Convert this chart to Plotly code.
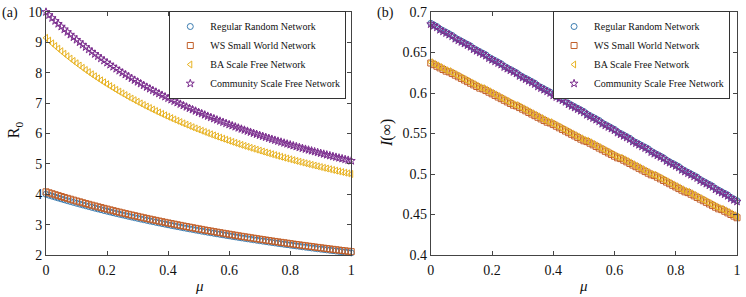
import plotly.graph_objects as go

# mu grid (x axis of both panels)
mu = [0.00, 0.01, 0.02, 0.03, 0.04, 0.05, 0.06, 0.07, 0.08, 0.09,
      0.10, 0.11, 0.12, 0.13, 0.14, 0.15, 0.16, 0.17, 0.18, 0.19,
      0.20, 0.21, 0.22, 0.23, 0.24, 0.25, 0.26, 0.27, 0.28, 0.29,
      0.30, 0.31, 0.32, 0.33, 0.34, 0.35, 0.36, 0.37, 0.38, 0.39,
      0.40, 0.41, 0.42, 0.43, 0.44, 0.45, 0.46, 0.47, 0.48, 0.49,
      0.50, 0.51, 0.52, 0.53, 0.54, 0.55, 0.56, 0.57, 0.58, 0.59,
      0.60, 0.61, 0.62, 0.63, 0.64, 0.65, 0.66, 0.67, 0.68, 0.69,
      0.70, 0.71, 0.72, 0.73, 0.74, 0.75, 0.76, 0.77, 0.78, 0.79,
      0.80, 0.81, 0.82, 0.83, 0.84, 0.85, 0.86, 0.87, 0.88, 0.89,
      0.90, 0.91, 0.92, 0.93, 0.94, 0.95, 0.96, 0.97, 0.98, 0.99,
      1.00]

# (a) R0
r0_regular = [4.000, 3.969, 3.938, 3.907, 3.877, 3.848, 3.818, 3.789, 3.761, 3.732,
              3.704, 3.677, 3.649, 3.622, 3.596, 3.569, 3.543, 3.517, 3.492, 3.466,
              3.442, 3.417, 3.392, 3.368, 3.344, 3.321, 3.298, 3.274, 3.252, 3.229,
              3.207, 3.184, 3.163, 3.141, 3.119, 3.098, 3.077, 3.056, 3.036, 3.015,
              2.995, 2.975, 2.956, 2.936, 2.917, 2.897, 2.878, 2.860, 2.841, 2.822,
              2.804, 2.786, 2.768, 2.750, 2.733, 2.715, 2.698, 2.681, 2.664, 2.647,
              2.631, 2.614, 2.598, 2.581, 2.565, 2.549, 2.534, 2.518, 2.503, 2.487,
              2.472, 2.457, 2.442, 2.427, 2.412, 2.398, 2.383, 2.369, 2.355, 2.341,
              2.327, 2.313, 2.299, 2.286, 2.272, 2.259, 2.245, 2.232, 2.219, 2.206,
              2.193, 2.180, 2.168, 2.155, 2.143, 2.130, 2.118, 2.106, 2.094, 2.082,
              2.070]
r0_ws = [4.080, 4.048, 4.017, 3.985, 3.955, 3.925, 3.894, 3.865, 3.836, 3.807,
         3.778, 3.751, 3.722, 3.694, 3.668, 3.640, 3.614, 3.587, 3.562, 3.535,
         3.511, 3.485, 3.460, 3.435, 3.411, 3.387, 3.364, 3.339, 3.317, 3.294,
         3.271, 3.248, 3.226, 3.204, 3.181, 3.160, 3.139, 3.117, 3.097, 3.075,
         3.055, 3.035, 3.015, 2.995, 2.975, 2.955, 2.936, 2.917, 2.898, 2.878,
         2.860, 2.842, 2.823, 2.805, 2.788, 2.769, 2.752, 2.735, 2.717, 2.700,
         2.684, 2.666, 2.650, 2.633, 2.616, 2.600, 2.585, 2.568, 2.553, 2.537,
         2.521, 2.506, 2.491, 2.476, 2.460, 2.446, 2.431, 2.416, 2.402, 2.388,
         2.374, 2.359, 2.345, 2.332, 2.317, 2.304, 2.290, 2.277, 2.263, 2.250,
         2.237, 2.224, 2.211, 2.198, 2.186, 2.173, 2.160, 2.148, 2.136, 2.124,
         2.111]
r0_ba = [9.150, 9.059, 8.969, 8.881, 8.795, 8.711, 8.628, 8.547, 8.467, 8.390,
         8.314, 8.239, 8.164, 8.093, 8.022, 7.952, 7.885, 7.818, 7.752, 7.687,
         7.624, 7.562, 7.500, 7.440, 7.380, 7.322, 7.265, 7.208, 7.153, 7.099,
         7.046, 6.992, 6.940, 6.889, 6.840, 6.789, 6.741, 6.693, 6.646, 6.599,
         6.553, 6.508, 6.464, 6.420, 6.377, 6.334, 6.292, 6.250, 6.209, 6.169,
         6.130, 6.090, 6.052, 6.013, 5.976, 5.939, 5.903, 5.866, 5.831, 5.796,
         5.761, 5.727, 5.693, 5.659, 5.626, 5.594, 5.562, 5.530, 5.499, 5.468,
         5.438, 5.408, 5.377, 5.348, 5.319, 5.290, 5.261, 5.234, 5.205, 5.178,
         5.151, 5.124, 5.097, 5.072, 5.045, 5.020, 4.995, 4.969, 4.945, 4.920,
         4.896, 4.871, 4.848, 4.825, 4.801, 4.778, 4.755, 4.733, 4.710, 4.688,
         4.667]
r0_community = [10.000, 9.900, 9.802, 9.706, 9.612, 9.520, 9.429, 9.341, 9.254, 9.169,
                9.086, 9.004, 8.923, 8.845, 8.767, 8.691, 8.617, 8.544, 8.472, 8.401,
                8.332, 8.264, 8.197, 8.131, 8.066, 8.002, 7.940, 7.878, 7.818, 7.758,
                7.700, 7.642, 7.585, 7.529, 7.475, 7.420, 7.367, 7.315, 7.263, 7.212,
                7.162, 7.113, 7.064, 7.016, 6.969, 6.922, 6.876, 6.831, 6.786, 6.742,
                6.699, 6.656, 6.614, 6.572, 6.531, 6.491, 6.451, 6.411, 6.373, 6.334,
                6.296, 6.259, 6.222, 6.185, 6.149, 6.114, 6.079, 6.044, 6.010, 5.976,
                5.943, 5.910, 5.877, 5.845, 5.813, 5.781, 5.750, 5.720, 5.689, 5.659,
                5.630, 5.600, 5.571, 5.543, 5.514, 5.486, 5.459, 5.431, 5.404, 5.377,
                5.351, 5.324, 5.298, 5.273, 5.247, 5.222, 5.197, 5.173, 5.148, 5.124,
                5.100]

# (b) I(inf)
inf_regular = [0.686, 0.684, 0.682, 0.679, 0.677, 0.675, 0.673, 0.671, 0.668, 0.666,
               0.664, 0.662, 0.660, 0.658, 0.655, 0.653, 0.651, 0.649, 0.647, 0.644,
               0.642, 0.640, 0.638, 0.636, 0.633, 0.631, 0.629, 0.627, 0.625, 0.622,
               0.620, 0.618, 0.616, 0.614, 0.612, 0.609, 0.607, 0.605, 0.603, 0.601,
               0.598, 0.596, 0.594, 0.592, 0.590, 0.587, 0.585, 0.583, 0.581, 0.579,
               0.577, 0.574, 0.572, 0.570, 0.568, 0.566, 0.563, 0.561, 0.559, 0.557,
               0.555, 0.552, 0.550, 0.548, 0.546, 0.544, 0.541, 0.539, 0.537, 0.535,
               0.533, 0.531, 0.528, 0.526, 0.524, 0.522, 0.520, 0.517, 0.515, 0.513,
               0.511, 0.509, 0.506, 0.504, 0.502, 0.500, 0.498, 0.496, 0.493, 0.491,
               0.489, 0.487, 0.485, 0.482, 0.480, 0.478, 0.476, 0.474, 0.471, 0.469,
               0.467]
inf_ws = [0.637, 0.635, 0.633, 0.631, 0.629, 0.627, 0.626, 0.624, 0.622, 0.620,
          0.618, 0.616, 0.614, 0.612, 0.610, 0.608, 0.606, 0.605, 0.603, 0.601,
          0.599, 0.597, 0.595, 0.593, 0.591, 0.589, 0.587, 0.585, 0.584, 0.582,
          0.580, 0.578, 0.576, 0.574, 0.572, 0.570, 0.568, 0.566, 0.564, 0.563,
          0.561, 0.559, 0.557, 0.555, 0.553, 0.551, 0.549, 0.547, 0.545, 0.543,
          0.541, 0.540, 0.538, 0.536, 0.534, 0.532, 0.530, 0.528, 0.526, 0.524,
          0.522, 0.520, 0.519, 0.517, 0.515, 0.513, 0.511, 0.509, 0.507, 0.505,
          0.503, 0.501, 0.499, 0.498, 0.496, 0.494, 0.492, 0.490, 0.488, 0.486,
          0.484, 0.482, 0.480, 0.478, 0.477, 0.475, 0.473, 0.471, 0.469, 0.467,
          0.465, 0.463, 0.461, 0.459, 0.457, 0.456, 0.454, 0.452, 0.450, 0.448,
          0.446]
inf_ba = [0.638, 0.636, 0.634, 0.632, 0.630, 0.628, 0.627, 0.625, 0.623, 0.621,
          0.619, 0.617, 0.615, 0.613, 0.611, 0.609, 0.607, 0.606, 0.604, 0.602,
          0.600, 0.598, 0.596, 0.594, 0.592, 0.590, 0.588, 0.586, 0.585, 0.583,
          0.581, 0.579, 0.577, 0.575, 0.573, 0.571, 0.569, 0.567, 0.565, 0.564,
          0.562, 0.560, 0.558, 0.556, 0.554, 0.552, 0.550, 0.548, 0.546, 0.544,
          0.542, 0.541, 0.539, 0.537, 0.535, 0.533, 0.531, 0.529, 0.527, 0.525,
          0.523, 0.521, 0.520, 0.518, 0.516, 0.514, 0.512, 0.510, 0.508, 0.506,
          0.504, 0.502, 0.500, 0.499, 0.497, 0.495, 0.493, 0.491, 0.489, 0.487,
          0.485, 0.483, 0.481, 0.479, 0.478, 0.476, 0.474, 0.472, 0.470, 0.468,
          0.466, 0.464, 0.462, 0.460, 0.458, 0.457, 0.455, 0.453, 0.451, 0.449,
          0.447]
inf_community = [0.685, 0.683, 0.681, 0.678, 0.676, 0.674, 0.672, 0.670, 0.667, 0.665,
                 0.663, 0.661, 0.659, 0.657, 0.654, 0.652, 0.650, 0.648, 0.646, 0.643,
                 0.641, 0.639, 0.637, 0.635, 0.632, 0.630, 0.628, 0.626, 0.624, 0.621,
                 0.619, 0.617, 0.615, 0.613, 0.611, 0.608, 0.606, 0.604, 0.602, 0.600,
                 0.597, 0.595, 0.593, 0.591, 0.589, 0.586, 0.584, 0.582, 0.580, 0.578,
                 0.576, 0.573, 0.571, 0.569, 0.567, 0.565, 0.562, 0.560, 0.558, 0.556,
                 0.554, 0.551, 0.549, 0.547, 0.545, 0.543, 0.540, 0.538, 0.536, 0.534,
                 0.532, 0.530, 0.527, 0.525, 0.523, 0.521, 0.519, 0.516, 0.514, 0.512,
                 0.510, 0.508, 0.505, 0.503, 0.501, 0.499, 0.497, 0.495, 0.492, 0.490,
                 0.488, 0.486, 0.484, 0.481, 0.479, 0.477, 0.475, 0.473, 0.470, 0.468,
                 0.466]

names = ['Regular Random Network', 'WS Small World Network',
         'BA Scale Free Network', 'Community Scale Free Network']
symbols = ['circle-open', 'square-open', 'triangle-left-open', 'star-open']
colors = ['#3b7cb0', '#c2602b', '#e8b323', '#7b2d8e']

FONT = 'Liberation Serif'
W, H = 746, 297
ML, MR, MT, MB = 46, 5, 12, 42
PW, PH = W - ML - MR, H - MT - MB


def px(xp):
    return (xp - ML) / PW


def py(yp):
    return (H - MB - yp) / PH


fig = go.Figure()

panel_a = [r0_regular, r0_ws, r0_ba, r0_community]
panel_b = [inf_regular, inf_ws, inf_ba, inf_community]

for i in range(4):
    fig.add_trace(go.Scatter(
        x=mu, y=panel_a[i], mode='markers', name=names[i],
        marker=dict(symbol=symbols[i], size=6, color=colors[i], line=dict(width=1, color=colors[i])),
        xaxis='x', yaxis='y', legend='legend', cliponaxis=False))

for i in range(4):
    fig.add_trace(go.Scatter(
        x=mu, y=panel_b[i], mode='markers', name=names[i],
        marker=dict(symbol=symbols[i], size=6, color=colors[i], line=dict(width=1, color=colors[i])),
        xaxis='x2', yaxis='y2', legend='legend2', cliponaxis=False))

axis_style = dict(showline=True, linecolor='#444', linewidth=1, mirror='ticks',
                  ticks='inside', ticklen=4, tickcolor='#444', showgrid=False,
                  zeroline=False, ticklabeloverflow='allow',
                  tickfont=dict(family=FONT, size=14, color='#111'))

legend_style = dict(xanchor='left', yanchor='top', bgcolor='white', bordercolor='#333',
                    borderwidth=1, font=dict(family=FONT, size=10, color='#111'),
                    tracegroupgap=0, itemsizing='trace', itemwidth=30)

fig.update_layout(
    width=W, height=H,
    margin=dict(l=ML, r=MR, t=MT, b=MB),
    paper_bgcolor='white', plot_bgcolor='white',
    font=dict(family=FONT, color='#111'),
    xaxis=dict(domain=[0, px(353)], range=[0, 1], dtick=0.2, anchor='y',
               ticklabelstandoff=2, **axis_style),
    yaxis=dict(domain=[0, 1], range=[2, 10], dtick=1, anchor='x', **axis_style),
    xaxis2=dict(domain=[px(433), 1], range=[0, 1], dtick=0.2, anchor='y2',
                ticklabelstandoff=2, **axis_style),
    yaxis2=dict(domain=[0, 1], range=[0.4, 0.7], dtick=0.05, anchor='x2', **axis_style),
    legend=dict(x=px(170), y=py(11), **legend_style),
    legend2=dict(x=px(556), y=py(11), **legend_style),
    showlegend=True,
)

labels = [
    dict(text='(a)', x=px(10), y=py(13), size=14, angle=0),
    dict(text='(b)', x=px(387), y=py(13), size=14, angle=0),
    dict(text='R<sub>0</sub>', x=px(14), y=py(130), size=16, angle=-90),
    dict(text='<i>I</i>(∞)', x=px(389), y=py(133), size=16, angle=-90),
    dict(text='<i>μ</i>', x=px(200), y=py(286), size=15, angle=0),
    dict(text='<i>μ</i>', x=px(587), y=py(286), size=15, angle=0),
]
for lab in labels:
    fig.add_annotation(text=lab['text'], x=lab['x'], y=lab['y'], xref='paper', yref='paper',
                       xanchor='center', yanchor='middle', showarrow=False,
                       textangle=lab['angle'], font=dict(family=FONT, size=lab['size'], color='#111'))

# the page body has a default margin; drop it so the figure sits at the window origin
fig.write_html("out.html", config={'displayModeBar': False},
               post_script="document.body.style.margin='0';")
